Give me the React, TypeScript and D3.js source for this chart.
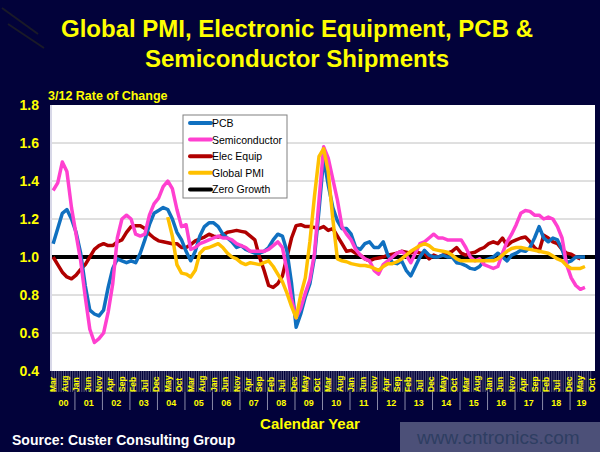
import * as d3 from 'd3';

// bimonthly samples, index k -> month 2k after Mar 2000
const semi = [1.35,1.39,1.50,1.45,1.26,1.12,0.98,0.79,0.62,0.55,0.57,0.60,0.71,0.86,1.10,1.20,1.22,1.20,1.12,1.11,1.12,1.22,1.28,1.31,1.37,1.40,1.36,1.25,1.16,1.17,1.04,1.05,1.07,1.08,1.09,1.10,1.11,1.10,1.10,1.09,1.07,1.06,1.05,1.03,1.03,1.03,1.03,1.04,1.06,1.08,1.05,0.93,0.78,0.68,0.73,0.81,0.88,1.02,1.30,1.58,1.52,1.41,1.30,1.16,1.12,1.09,1.04,1.01,0.99,0.98,0.93,0.91,0.96,0.98,1.00,1.02,1.03,1.01,0.97,1.02,1.07,1.08,1.10,1.12,1.10,1.10,1.09,1.09,1.09,1.09,1.05,1.00,0.98,0.99,0.96,0.95,0.94,0.95,1.02,1.08,1.12,1.17,1.23,1.245,1.24,1.22,1.22,1.20,1.21,1.20,1.16,1.10,0.96,0.89,0.85,0.83,0.84];
const pcb = [1.07,1.15,1.23,1.25,1.20,1.13,1.02,0.85,0.72,0.70,0.69,0.72,0.84,0.94,0.99,0.98,0.97,0.98,0.97,1.02,1.09,1.17,1.23,1.245,1.26,1.25,1.20,1.13,1.09,1.03,0.98,1.03,1.11,1.16,1.18,1.18,1.16,1.12,1.10,1.08,1.05,1.06,1.04,1.03,1.02,1.02,1.03,1.05,1.09,1.12,1.11,1.03,0.86,0.63,0.70,0.79,0.86,1.00,1.25,1.52,1.38,1.26,1.19,1.15,1.15,1.12,1.05,1.04,1.07,1.08,1.05,1.05,1.08,1.01,0.97,0.965,0.98,0.93,0.90,0.95,1.00,1.035,1.01,1.00,1.00,1.01,1.00,1.00,0.97,0.965,0.955,0.94,0.935,0.95,0.98,0.99,1.00,1.02,1.00,0.98,1.01,1.02,1.035,1.03,1.05,1.10,1.16,1.10,1.08,1.10,1.09,1.04,0.97,0.98,1.00,1.00,1.00];
const elec = [1.00,0.96,0.92,0.895,0.885,0.905,0.935,0.96,1.00,1.04,1.06,1.07,1.06,1.06,1.08,1.09,1.13,1.16,1.165,1.165,1.15,1.12,1.10,1.085,1.08,1.075,1.07,1.07,1.05,1.05,1.065,1.085,1.095,1.105,1.12,1.11,1.105,1.115,1.13,1.135,1.14,1.135,1.13,1.11,1.09,1.00,0.93,0.85,0.84,0.86,0.90,1.00,1.10,1.165,1.17,1.16,1.16,1.155,1.15,1.16,1.14,1.15,1.11,1.07,1.03,1.035,1.02,1.01,0.99,0.98,0.99,0.995,1.00,1.01,1.015,1.02,1.03,1.025,1.02,1.03,1.02,1.02,0.99,1.01,1.00,1.01,1.02,1.03,1.05,1.02,1.01,1.02,1.025,1.04,1.05,1.07,1.08,1.07,1.10,1.06,1.08,1.09,1.10,1.105,1.08,1.05,1.03,1.115,1.10,1.08,1.07,1.04,1.02,1.015,1.00,0.99];
const pmi = [null,null,null,null,null,null,null,null,null,null,null,null,null,null,null,null,null,null,null,null,null,null,null,null,null,1.21,1.11,0.96,0.915,0.91,0.895,0.93,1.02,1.045,1.05,1.06,1.07,1.05,1.02,1.00,0.99,0.97,0.96,0.97,0.965,0.96,0.97,0.98,0.95,0.91,0.87,0.81,0.74,0.68,0.80,0.89,1.08,1.32,1.53,1.57,1.45,1.20,0.99,0.98,0.975,0.965,0.96,0.955,0.955,0.95,0.94,0.93,0.95,0.965,0.965,0.975,0.99,1.01,1.03,1.045,1.06,1.07,1.06,1.04,1.035,1.03,1.025,1.01,0.99,0.98,0.98,0.98,0.98,0.98,0.98,0.98,0.98,0.99,1.01,1.03,1.045,1.05,1.05,1.045,1.04,1.035,1.03,1.025,1.02,1.005,0.99,0.98,0.955,0.94,0.94,0.94,0.95];

const monthNames = ['Jan','Feb','Mar','Apr','May','Jun','Jul','Aug','Sep','Oct','Nov','Dec'];
const years = ['00','01','02','03','04','05','06','07','08','09','10','11','12','13','14','15','16','17','18','19'];
const yTicks = [0.4, 0.6, 0.8, 1.0, 1.2, 1.4, 1.6, 1.8];

const series = [
  { name: 'PCB', values: pcb, color: '#1070c0' },
  { name: 'Semiconductor', values: semi, color: '#ff40d0' },
  { name: 'Elec Equip', values: elec, color: '#b00000' },
  { name: 'Global PMI', values: pmi, color: '#ffc000' },
];
const drawOrder = [2, 0, 1, 3];

const W = 600, H = 452;
const left = 52, right = 595, top = 105, bottom = 371;
const nMonths = 236; // Mar 2000 .. Oct 2019
const font = '"Liberation Sans", Arial, sans-serif';

export default function App() {
  const x = d3.scaleLinear().domain([-0.5, nMonths - 0.5]).range([left, right - 2]);
  const y = d3.scaleLinear().domain([0.4, 1.8]).range([bottom, top]);

  const line = d3.line<number | null>()
    .defined(d => d != null)
    .x((_, k) => x(k * 2))
    .y(d => y(d as number));

  const months = d3.range(nMonths);

  return (
    <svg width={W} height={H} style={{ position: 'absolute', left: 0, top: 0, fontFamily: font }}>
      <rect width={W} height={H} fill="#02023a" />
      <line x1={2} y1={8} x2={38} y2={34} stroke="#1a1a28" strokeWidth={2} />
      <line x1={8} y1={24} x2={44} y2={48} stroke="#1a1a28" strokeWidth={2} />

      <text x={297} y={37} textAnchor="middle" fill="#ffff00" fontSize={24} fontWeight="bold">Global PMI, Electronic Equipment, PCB &amp;</text>
      <text x={297} y={67} textAnchor="middle" fill="#ffff00" fontSize={24} fontWeight="bold">Semiconductor Shipments</text>
      <text x={48} y={100} fill="#ffff00" fontSize={12.5} fontWeight="bold">3/12 Rate of Change</text>

      <rect x={left - 2} y={top} width={right - left + 2} height={bottom - top} fill="#d8d8e8" />
      <rect x={left} y={top} width={right - left} height={bottom - top} fill="#ffffff" />
      {yTicks.map(t => (
        <g key={t}>
          {t > 0.4 && t < 1.8 && <line x1={left} x2={right} y1={y(t)} y2={y(t)} stroke="#c0c0c0" strokeWidth={1} />}
          <text x={39} y={y(t) + 5} textAnchor="end" fill="#ffff00" fontSize={14} fontWeight="bold">{t.toFixed(1)}</text>
        </g>
      ))}

      {/* month ticks and labels */}
      {months.map(i => (
        <line key={'t' + i} x1={x(i - 0.5)} x2={x(i - 0.5)} y1={bottom} y2={392} stroke="#8a8aa8" strokeWidth={0.6} />
      ))}
      {months.filter(i => i % 5 === 0).map(i => (
        <text key={'m' + i} transform={`translate(${x(i) + 3},392) rotate(-90)`} fill="#ffff00" fontSize={8.5} fontWeight="bold">
          {monthNames[(i + 2) % 12]}
        </text>
      ))}
      {years.map((yr, j) => {
        const s = j === 0 ? 0 : j * 12 - 2;
        const e = Math.min(j * 12 + 10, nMonths);
        return (
          <g key={yr}>
            {j > 0 && <line x1={x(s - 0.5)} x2={x(s - 0.5)} y1={392} y2={410} stroke="#8a8aa8" strokeWidth={1} />}
            <text x={(x(s - 0.5) + x(e - 0.5)) / 2} y={406} textAnchor="middle" fill="#ffff00" fontSize={9} fontWeight="bold">{yr}</text>
          </g>
        );
      })}

      <line x1={left} x2={right} y1={y(1)} y2={y(1)} stroke="#000000" strokeWidth={4} />
      {drawOrder.map(k => (
        <path key={series[k].name} d={line(series[k].values) || ''} fill="none" stroke={series[k].color} strokeWidth={3.5} strokeLinejoin="round" />
      ))}

      {/* legend */}
      <rect x={183} y={115} width={104} height={83} fill="#ffffff" stroke="#808080" strokeWidth={1} />
      {[...series, { name: 'Zero Growth', values: [], color: '#000000' }].map((s, k) => (
        <g key={s.name} transform={`translate(190,${123 + k * 16.6})`}>
          <line x1={0} x2={21} y1={0} y2={0} stroke={s.color} strokeWidth={4} strokeLinecap="round" />
          <text x={22} y={4} fill="#000000" fontSize={10.5}>{s.name}</text>
        </g>
      ))}

      <text x={310} y={429} textAnchor="middle" fill="#ffff00" fontSize={15} fontWeight="bold">Calendar Year</text>
      <text x={12} y={445} fill="#ffffff" fontSize={14} fontWeight="bold">Source: Custer Consulting Group</text>

      <rect x={400} y={422} width={200} height={30} fill="#4c5078" />
      <text x={417} y={444} fill="#2e3e62" fontSize={19}>www.cntronics.com</text>
    </svg>
  );
}
